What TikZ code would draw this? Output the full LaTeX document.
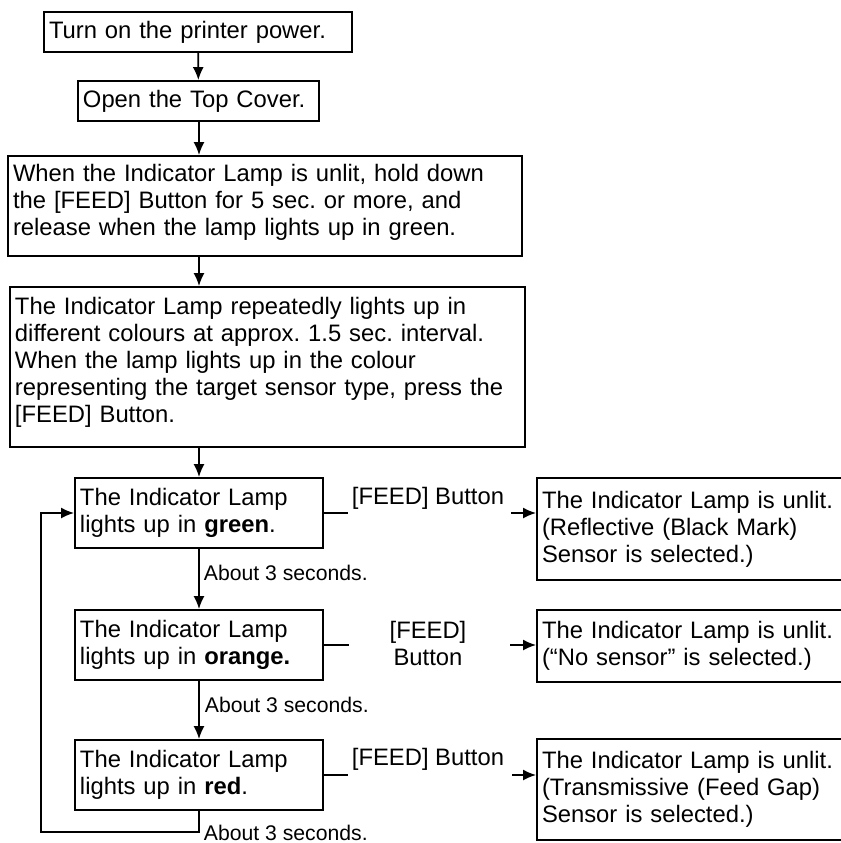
\documentclass[tikz,border=0pt]{standalone}
\usepackage{fontspec}
\setmainfont{Liberation Sans}
\frenchspacing
\usetikzlibrary{arrows.meta, calc, positioning}

\begin{document}
\begin{tikzpicture}[x=0.5pt, y=-0.5pt, line width=0.9pt,
    every node/.style={font=\fontsize{11.9}{13.5}\selectfont},
    stepbox/.style={draw, align=left, inner xsep=2.5pt, inner ysep=0pt},
    lampbox/.style={stepbox, text width=119pt, minimum height=35pt},
    resbox/.style={stepbox, text width=149pt},
    arr/.style={-{Latex[length=6.5pt,width=5.5pt]}},
    secs/.style={anchor=west, inner sep=0pt, font=\fontsize{10.6}{12}\selectfont}]
    \useasboundingbox (0,0) rectangle (841,843);

    % Start steps
    \node[stepbox, text width=149pt, minimum height=20pt] (power) at (198,32) {Turn on the printer power.};
    \node[stepbox, text width=115.5pt, minimum height=20pt] (cover) at (198.5,101) {Open the Top Cover.};
    \node[stepbox, text width=252pt, text height=12.5pt, text depth=37.5pt] (hold) at (265,206)
        {When the Indicator Lamp is unlit, hold down\\the [FEED] Button for 5 sec. or more, and\\release when the lamp lights up in green.};
    \node[stepbox, text width=252.5pt, text height=13.5pt, text depth=66.5pt] (cycle) at (267.5,367)
        {The Indicator Lamp repeatedly lights up in\\different colours at approx. 1.5 sec. interval.\\When the lamp lights up in the colour\\representing the target sensor type, press the\\{}[FEED] Button.};

    % Lamp colours
    \node[lampbox] (green) at (199,513) {The Indicator Lamp\\lights up in \textbf{green}.};
    \node[lampbox] (orange) at (199,645) {The Indicator Lamp\\lights up in \textbf{orange.}};
    \node[lampbox] (red) at (199,775) {The Indicator Lamp\\lights up in \textbf{red}.};

    % Results
    \node[resbox, minimum height=51pt] (reflect) at (691,529) {The Indicator Lamp is unlit.\\(Reflective (Black Mark)\\Sensor is selected.)};
    \node[resbox, minimum height=36pt] (nosens) at (691,646) {The Indicator Lamp is unlit.\\(“No sensor” is selected.)};
    \node[resbox, minimum height=50.5pt] (trans) at (691,789.5) {The Indicator Lamp is unlit.\\(Transmissive (Feed Gap)\\Sensor is selected.)};

    % Main flow
    \draw[arr] (power) -- (cover);
    \draw[arr] (cover.south -| green) -- (hold.north -| green);
    \draw[arr] (hold.south -| green) -- (cycle.north -| green);
    \draw[arr] (cycle.south -| green) -- (green.north);
    \draw[arr] (green) -- (orange);
    \draw[arr] (orange) -- (red);
    \draw[arr] (red.south) -- ++(0,21) -| ($(green.west)+(-33,0)$) -- (green.west);

    % Timing labels
    \node[secs] (t1) at (203,573) {About 3 seconds.};
    \node[secs] (t2) at (204,705) {About 3 seconds.};
    \node[secs] (t3) at (203,833) {About 3 seconds.};

    % FEED button branches
    \node (gfeed) at (428,498) {[FEED] Button};
    \node[align=center] (ofeed) at (428,643) {[FEED]\\Button};
    \node (rfeed) at (428,759) {[FEED] Button};
    \draw (green.east) -- ++(24,0);
    \draw (orange.east) -- ++(25,0);
    \draw (red.east) -- ++(24,0);
    \draw[arr] (511,513) -- (reflect.west |- green.east);
    \draw[arr] (510,645) -- (nosens.west |- orange.east);
    \draw[arr] (512,775) -- (trans.west |- red.east);
\end{tikzpicture}
\end{document}
